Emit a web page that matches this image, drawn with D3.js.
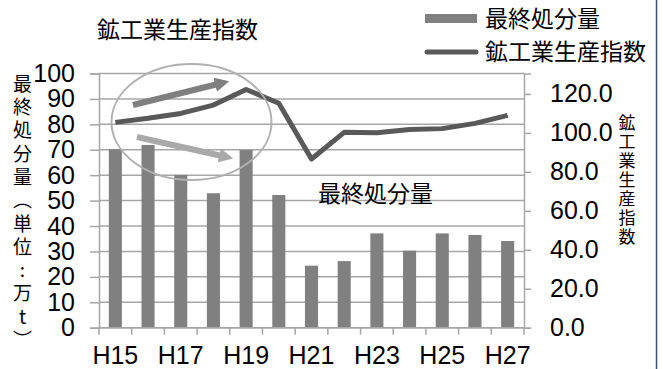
<!DOCTYPE html>
<html>
<head>
<meta charset="utf-8">
<script src="https://cdn.jsdelivr.net/npm/d3@7/dist/d3.min.js"></script>
<style>
  html, body { margin: 0; padding: 0; background: #fff; }
  svg { display: block; }
  .num { font-family: "Liberation Sans", Arial, sans-serif; fill: #000; }
  .jp { font-family: "Noto Sans CJK JP", "Noto Sans", sans-serif; fill: #000; }
</style>
</head>
<body>
<svg id="chart" width="663" height="369"></svg>
<script>
// 年度（平成）
const categories = ["H15","H16","H17","H18","H19","H20","H21","H22","H23","H24","H25","H26","H27"];
// 最終処分量（万t）
const disposal = [70.2, 71.9, 60.1, 52.9, 69.9, 52.2, 24.4, 26.2, 37.1, 30.3, 37.1, 36.5, 34.1];
// 鉱工業生産指数
const productionIndex = [105.4, 107.5, 110.0, 114.3, 122.3, 115.2, 86.6, 100.3, 100.1, 101.8, 102.2, 104.9, 109.0];
// 軸目盛
const leftTicks = [0, 10, 20, 30, 40, 50, 60, 70, 80, 90, 100];
const rightTicks = [0, 20, 40, 60, 80, 100, 120];
const xTickLabels = ["H15","H17","H19","H21","H23","H25","H27"];

const svg = d3.select("#chart");
const plot = { left: 99, right: 524, top: 73.5, bottom: 327.7 };
const gridColor = "#a6a6a6";

const x = d3.scaleBand().domain(categories)
  .range([plot.left, plot.right]).paddingInner(0.6).paddingOuter(0.3);
const yL = d3.scaleLinear().domain([0, 100]).range([plot.bottom, plot.top]);
const yR = d3.scaleLinear().domain([0, 130.5]).range([plot.bottom, plot.top]);

// 横グリッド線
svg.append("g").selectAll("line").data(leftTicks).join("line")
  .attr("x1", plot.left).attr("x2", plot.right)
  .attr("y1", d => yL(d)).attr("y2", d => yL(d))
  .attr("stroke", gridColor).attr("stroke-width", 1.5);

// 左軸
const gL = svg.append("g").attr("transform", `translate(${plot.left},0)`)
  .call(d3.axisLeft(yL).tickValues(leftTicks).tickSize(9).tickPadding(15).tickFormat(d3.format("d")));
gL.select(".domain").attr("stroke", gridColor).attr("stroke-width", 1.5);
gL.selectAll(".tick line").attr("stroke", gridColor).attr("stroke-width", 1.5);
gL.selectAll(".tick text").attr("class", "num").attr("font-size", 25).attr("fill", "#000");

// 右軸
const gR = svg.append("g").attr("transform", `translate(${plot.right},0)`)
  .call(d3.axisRight(yR).tickValues(rightTicks).tickSize(7).tickPadding(19).tickFormat(d3.format(".1f")));
gR.select(".domain").attr("stroke", gridColor).attr("stroke-width", 1.5);
gR.selectAll(".tick line").attr("stroke", gridColor).attr("stroke-width", 1.5);
gR.selectAll(".tick text").attr("class", "num").attr("font-size", 25).attr("fill", "#000");

// 棒（最終処分量）
svg.append("g").selectAll("rect").data(categories).join("rect")
  .attr("x", d => x(d)).attr("width", x.bandwidth())
  .attr("y", (d, i) => yL(disposal[i]))
  .attr("height", (d, i) => yL(0) - yL(disposal[i]))
  .attr("fill", "#808080");

// X軸（区切り目盛）
const boundaries = d3.range(categories.length + 1).map(i => x.range()[0] + i * x.step());
svg.append("line").attr("x1", plot.left).attr("x2", plot.right)
  .attr("y1", plot.bottom).attr("y2", plot.bottom)
  .attr("stroke", gridColor).attr("stroke-width", 1.5);
svg.append("g").selectAll("line").data(boundaries).join("line")
  .attr("x1", d => d).attr("x2", d => d)
  .attr("y1", plot.bottom).attr("y2", plot.bottom + 7)
  .attr("stroke", gridColor).attr("stroke-width", 1.5);
svg.append("g").selectAll("text").data(xTickLabels).join("text")
  .attr("class", "num").attr("font-size", 25)
  .attr("x", d => x(d) + x.bandwidth() / 2).attr("y", 364)
  .attr("text-anchor", "middle").text(d => d);

// 折れ線（鉱工業生産指数）
const line = d3.line()
  .x((d, i) => x(categories[i]) + x.bandwidth() / 2)
  .y(d => yR(d));
svg.append("path").datum(productionIndex)
  .attr("d", line).attr("fill", "none")
  .attr("stroke", "#595959").attr("stroke-width", 5).attr("stroke-linejoin", "round");

// 注目範囲の楕円と矢印
svg.append("ellipse").attr("cx", 191.5).attr("cy", 122).attr("rx", 80).attr("ry", 58)
  .attr("fill", "none").attr("stroke", "#b0b0b0").attr("stroke-width", 2);

const defs = svg.append("defs");
function arrowHead(id, color) {
  defs.append("marker").attr("id", id)
    .attr("viewBox", "0 0 10 10").attr("refX", 2).attr("refY", 5)
    .attr("markerWidth", 2.4).attr("markerHeight", 2.4).attr("orient", "auto")
    .attr("markerUnits", "strokeWidth")
    .append("path").attr("d", "M0,0 L10,5 L0,10 Z").attr("fill", color);
}
arrowHead("arrUp", "#7f7f7f");
arrowHead("arrDown", "#a9a9a9");
svg.append("line").attr("x1", 133).attr("y1", 105).attr("x2", 218).attr("y2", 84)
  .attr("stroke", "#7f7f7f").attr("stroke-width", 6).attr("marker-end", "url(#arrUp)");
svg.append("line").attr("x1", 137).attr("y1", 137).attr("x2", 222).attr("y2", 156)
  .attr("stroke", "#a9a9a9").attr("stroke-width", 6).attr("marker-end", "url(#arrDown)");

// テキスト注記
svg.append("text").attr("class", "jp").attr("font-size", 23)
  .attr("x", 97).attr("y", 37.5).text("鉱工業生産指数");
svg.append("text").attr("class", "jp").attr("font-size", 23)
  .attr("x", 318).attr("y", 202).text("最終処分量");

// 凡例
svg.append("rect").attr("x", 425).attr("y", 14).attr("width", 52).attr("height", 9).attr("fill", "#808080");
svg.append("text").attr("class", "jp").attr("font-size", 23).attr("x", 485).attr("y", 27).text("最終処分量");
svg.append("line").attr("x1", 427).attr("x2", 476).attr("y1", 52).attr("y2", 52)
  .attr("stroke", "#595959").attr("stroke-width", 5).attr("stroke-linecap", "round");
svg.append("text").attr("class", "jp").attr("font-size", 23).attr("x", 485).attr("y", 60).text("鉱工業生産指数");

// 縦書きの軸タイトル
svg.append("text").attr("class", "jp").attr("font-size", 19)
  .attr("x", 22.5).attr("y", 74)
  .style("writing-mode", "vertical-rl").style("text-orientation", "upright")
  .attr("letter-spacing", 4.3)
  .text("最終処分量（単位:万t）");
svg.append("text").attr("class", "jp").attr("font-size", 17)
  .attr("x", 627).attr("y", 114)
  .style("writing-mode", "vertical-rl").style("text-orientation", "upright")
  .attr("letter-spacing", 2)
  .text("鉱工業生産指数");

// 右端の枠線
svg.append("line").attr("x1", 656.5).attr("x2", 656.5).attr("y1", 0).attr("y2", 369)
  .attr("stroke", "#3d4f73").attr("stroke-width", 1.5);
</script>
</body>
</html>
